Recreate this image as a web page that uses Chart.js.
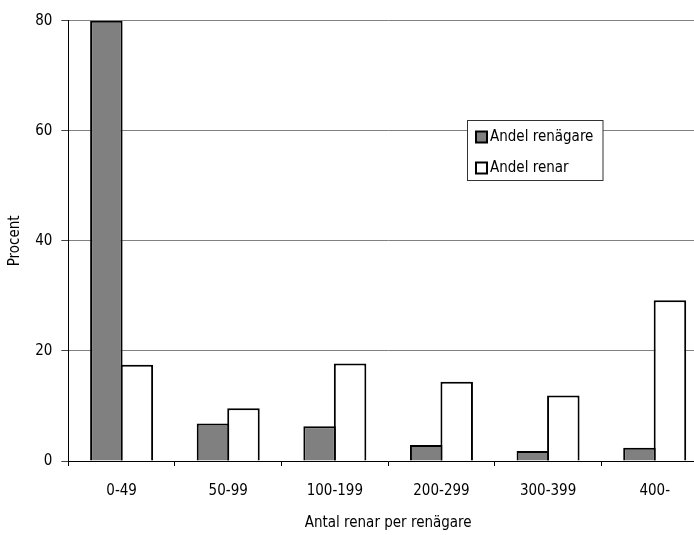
<!DOCTYPE html>
<html>
<head>
<meta charset="utf-8">
<script src="https://cdn.jsdelivr.net/npm/chart.js@4/dist/chart.umd.min.js"></script>
<style>
  html, body { margin: 0; padding: 0; background: #fff; overflow: hidden; }
  #wrap { position: absolute; left: 0; top: 0; width: 718px; height: 535px; }
</style>
</head>
<body>
<div id="wrap"><canvas id="c" width="718" height="535"></canvas></div>
<script>
const categories = ['0-49', '50-99', '100-199', '200-299', '300-399', '400-'];
const andelRenagare = [80, 6.8, 6.3, 2.9, 1.8, 2.4];
const andelRenar = [17.5, 9.6, 17.7, 14.4, 11.9, 29.2];
const yTicks = [0, 20, 40, 60, 80];
const seriesNames = ['Andel renägare', 'Andel renar'];

const FONT = "'DejaVu Sans Condensed', 'Liberation Sans Narrow', 'DejaVu Sans', sans-serif";

const legendPlugin = {
  id: 'boxLegend',
  afterDraw(chart) {
    const ctx = chart.ctx;
    const x0 = 467.5, y0 = 120.5, w = 135.5, h = 60;
    ctx.save();
    ctx.fillStyle = '#fff';
    ctx.fillRect(x0, y0, w, h);
    ctx.strokeStyle = '#333';
    ctx.lineWidth = 1;
    ctx.strokeRect(x0, y0, w, h);
    ctx.font = "15px " + FONT;
    ctx.textBaseline = 'middle';
    ctx.textAlign = 'left';
    chart.data.datasets.forEach((ds, i) => {
      const cy = 137 + i * 31;
      ctx.fillStyle = ds.backgroundColor;
      ctx.fillRect(476, cy - 5.5, 11, 11);
      ctx.strokeStyle = '#000';
      ctx.lineWidth = 2;
      ctx.strokeRect(476, cy - 5.5, 11, 11);
      ctx.fillStyle = '#000';
      ctx.fillText(ds.label, 490, cy);
    });
    ctx.restore();
  }
};

new Chart(document.getElementById('c'), {
  type: 'bar',
  data: {
    labels: categories,
    datasets: [
      { label: seriesNames[0], data: andelRenagare, backgroundColor: '#808080', borderColor: '#000', borderWidth: 2,
        categoryPercentage: 0.572, barPercentage: 1.066 },
      { label: seriesNames[1], data: andelRenar, backgroundColor: '#ffffff', borderColor: '#000', borderWidth: 2,
        categoryPercentage: 0.572, barPercentage: 1.066 }
    ]
  },
  options: {
    responsive: false,
    animation: false,
    devicePixelRatio: 1,
    layout: { padding: { top: 20.7, right: 10, left: 0, bottom: 0 } },
    plugins: { legend: { display: false }, tooltip: { enabled: false } },
    scales: {
      x: {
        grid: { drawOnChartArea: false, drawTicks: true, tickLength: 5, tickColor: '#000', offset: true },
        border: { color: '#000', width: 1 },
        ticks: { color: '#000', font: { family: FONT, size: 15 }, padding: 16, maxRotation: 0 },
        title: { display: true, text: 'Antal renar per renägare', color: '#000', font: { family: FONT, size: 15 }, padding: { top: 0, bottom: 3 } },
        afterFit(s) { s.height = 74; s.paddingLeft = 0; s.paddingRight = 0; }
      },
      y: {
        min: 0, max: 80,
        afterBuildTicks(s) { s.ticks = yTicks.map(v => ({ value: v })); },
        grid: { color: '#808080', lineWidth: 1, tickLength: 7, tickColor: '#444' },
        border: { color: '#000', width: 1 },
        ticks: { color: '#000', font: { family: FONT, size: 15 }, padding: 9 },
        title: { display: true, text: 'Procent', color: '#000', font: { family: FONT, size: 15 }, padding: { top: 6, bottom: 0 } },
        afterFit(s) { s.width = 68.3; s.paddingTop = 0; s.paddingBottom = 0; }
      }
    }
  },
  plugins: [legendPlugin]
});
</script>
</body>
</html>
